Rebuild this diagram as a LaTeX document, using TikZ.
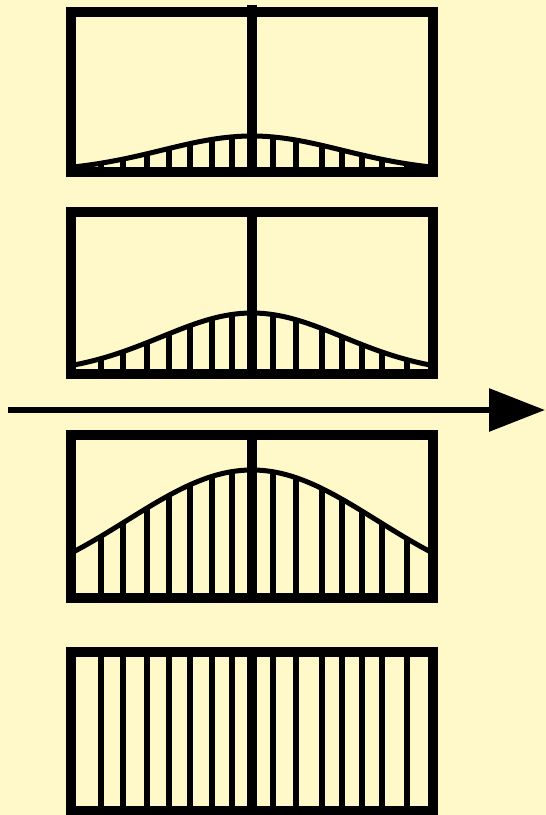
\documentclass[tikz,border=0pt]{standalone}
\usetikzlibrary{arrows.meta}
\definecolor{paper}{RGB}{255,249,201}

\begin{document}
\begin{tikzpicture}[
		x=1pt, y=-1pt,
		frame/.style={line width=10pt, line join=miter},
		hatch/.style={line width=5.5pt},
		profile/.style={line width=5pt, line join=round},
		arrow/.style={line width=6pt, -{Triangle[length=56pt, width=42pt]}}
		]
		
		% Fondo
		\fill[paper] (0,0) rectangle (546,815);
		\useasboundingbox (0,0) rectangle (546,815);
		
		% Perfiles
		\foreach \t/\b/\H/\s in {12/172/36/90, 212/374/61/91, 435/598/128/125} {
			\foreach \x in {101,123,147,169,190,212,232,273,296,322,342,362,382,407}
				\draw[hatch] (\x,\b) -- (\x,{\b-\H*exp(-0.5*((\x-252)/\s)^2)});
			\draw[profile] plot[domain=71:433, samples=80] (\x,{\b-\H*exp(-0.5*((\x-252)/\s)^2)});
			\draw[frame] (252,\t) -- (252,\b);
			\draw[frame] (71,\t) rectangle (433,\b);
		}
		\draw[frame] (252,5) -- (252,12);
		
		% Lleno
		\foreach \x in {101,123,147,169,190,212,232,273,296,322,342,362,382,407}
			\draw[hatch] (\x,652) -- (\x,811);
		\draw[frame] (252,652) -- (252,811);
		\draw[frame] (71,652) rectangle (433,811);
		
		% Flecha
		\coordinate (start) at (8,410);
		\coordinate (end) at (545,410);
		\draw[arrow] (start) -- (end);
		
	\end{tikzpicture}
\end{document}
